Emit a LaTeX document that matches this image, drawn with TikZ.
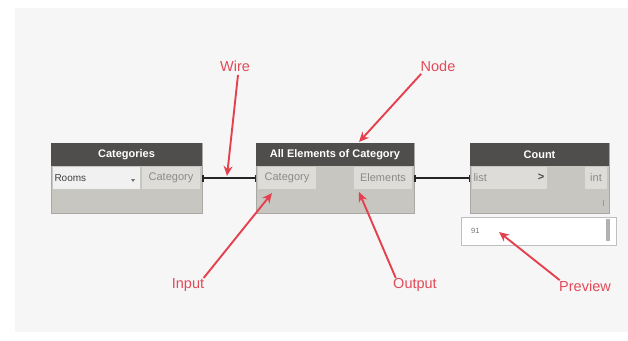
\documentclass[tikz,border=0pt]{standalone}
\usepackage{fontspec}
\setmainfont{Liberation Sans}
\usetikzlibrary{arrows.meta}
\definecolor{hdr}{HTML}{4F4E4C}
\definecolor{bodyc}{HTML}{C8C6C1}
\definecolor{portc}{HTML}{DEDCD8}
\definecolor{fieldc}{HTML}{F1F1F1}
\definecolor{redc}{HTML}{E5404E}
\definecolor{labc}{HTML}{E24A58}
\definecolor{portt}{HTML}{8C8A86}
\definecolor{bgc}{HTML}{F6F6F6}
\tikzset{
  box/.style={anchor=north west, inner sep=0pt, outer sep=0pt},
  nbody/.style={box, fill=bodyc, draw=bodyc!85!black, line width=0.5pt},
  nhead/.style={box, fill=hdr, text=white, font=\fontsize{11}{12}\selectfont\bfseries},
  port/.style={box, fill=portc, text=portt, font=\fontsize{11}{12}\selectfont, minimum height=22pt},
  lab/.style={text=labc, font=\fontsize{14.5}{16}\selectfont},
  pointer/.style={draw=redc, line width=1.9pt, -{Stealth[length=10pt,width=9pt]}},
  wire/.style={draw=black!85, line width=2.2pt, {Bar[width=7pt,line width=1.5pt]}-{Bar[width=7pt,line width=1.5pt]}}
}
\begin{document}
\begin{tikzpicture}[x=1pt,y=-1pt]
\useasboundingbox (0,0) rectangle (628,340);
\fill[white] (0,0) rectangle (628,340);
\fill[bgc] (15,8) rectangle (628,332);

% Categories node
\node[nbody, minimum width=151pt, minimum height=70pt] (cat) at (51,143) {};
\node[nhead, minimum width=151pt, minimum height=23pt] (cath) at (51,143) {Categories};
\node[box, fill=fieldc, minimum width=87pt, minimum height=22pt, text=black!75, font=\fontsize{10}{11}\selectfont, align=left, text width=84pt, inner xsep=1.5pt] (rooms) at (53,167) {Rooms};
\fill[black!55] ([xshift=-9pt,yshift=-1pt]rooms.east) -- ++(4,0) -- ++(-2,3) -- cycle;
\node[port, minimum width=58pt] (catout) at (142,167) {Category};

% All Elements of Category node
\node[nbody, minimum width=158pt, minimum height=70pt] (aec) at (256,143) {};
\node[nhead, minimum width=158pt, minimum height=23pt] (aech) at (256,143) {All Elements of Category};
\node[port, minimum width=58pt] (aecin) at (258,167) {Category};
\node[port, minimum width=58pt] (aecout) at (354,167) {Elements};

% Count node
\node[nbody, minimum width=139pt, minimum height=70pt] (cnt) at (470,143) {};
\node[nhead, minimum width=139pt, minimum height=23pt] (cnth) at (470,143) {Count};
\node[port, minimum width=75pt, align=left, text width=72pt, inner xsep=1.5pt] (cntin) at (472,167) {list};
\node[font=\fontsize{11}{12}\selectfont\bfseries, text=black!70, inner sep=0pt] (chev) at (541,177) {>};
\node[port, minimum width=22pt] (cntout) at (585,167) {int};
\draw[black!40, line width=0.6pt] (603,200) -- (603,206);

% Preview
\node[box, fill=white, draw=black!25, line width=0.6pt, minimum width=155pt, minimum height=28pt] (prev) at (461,217) {};
\node[anchor=west, text=black!55, font=\fontsize{7.5}{8}\selectfont, inner sep=0pt] (val) at (471,231) {91};
\fill[black!30] (606,219) rectangle (610,241);

% Wires
\draw[wire] (cat.east |- catout.east) -- (aec.west |- aecin.west);
\draw[wire] (aec.east |- aecout.east) -- (cnt.west |- cntin.west);

% Labels
\node[lab] (lwire) at (235,66) {Wire};
\node[lab] (lnode) at (438,66) {Node};
\node[lab] (linput) at (188,285) {Input};
\node[lab] (loutput) at (415,285) {Output};
\node[lab] (lprev) at (585,286) {Preview};
\coordinate (twire) at (227,176);
\coordinate (tnode) at (359,142);
\coordinate (tinput) at (272,193);
\coordinate (toutput) at (359,192);
\coordinate (tprev) at (499,232);
\draw[pointer] (lwire.south) ++(3,0) -- (twire);
\draw[pointer] (lnode.south west) ++(4,-1) -- (tnode);
\draw[pointer] (linput.north east) ++(-4,3) -- (tinput);
\draw[pointer] (loutput.north west) ++(6,3) -- (toutput);
\draw[pointer] (lprev.north west) ++(4,3) -- (tprev);
\end{tikzpicture}
\end{document}
